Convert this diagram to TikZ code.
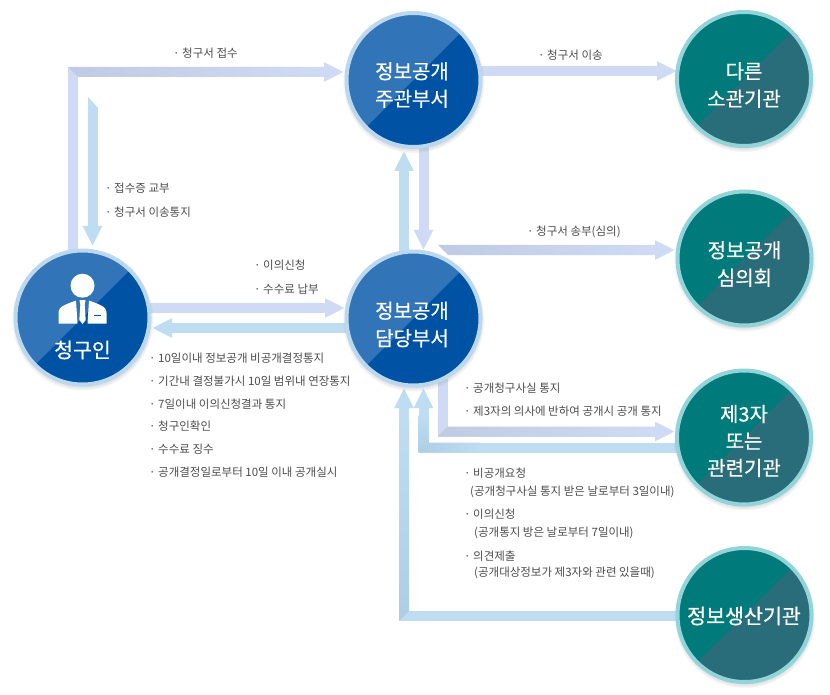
\documentclass[tikz,border=0pt]{standalone}
\usepackage{fontspec}
\setmainfont{Noto Sans CJK KR}
\newfontfamily\discfont[FakeBold=0.5]{Noto Sans CJK KR}
\usetikzlibrary{calc,arrows.meta,shadows,backgrounds}
\definecolor{lav}{HTML}{CFDBF4}
\definecolor{lavdark}{HTML}{BFCAE3}
\definecolor{skyb}{HTML}{BEDDF2}
\definecolor{skydark}{HTML}{ACCEE5}
\definecolor{blueA}{HTML}{3174B8}
\definecolor{blueB}{HTML}{0052A4}
\definecolor{blueR}{HTML}{BBD8EF}
\definecolor{tealA}{HTML}{007A7A}
\definecolor{tealB}{HTML}{2A6D7A}
\definecolor{tealR}{HTML}{92D4DA}
\definecolor{txt}{HTML}{4C4C4C}
\tikzset{
  disc/.style={circle,minimum size=134pt,inner sep=0pt,line width=4pt,
    circular drop shadow={shadow xshift=0pt,shadow yshift=-2pt,shadow scale=1.06,opacity=.55}},
  bluedisc/.style={disc,draw=blueR,fill=blueA,path picture={\fill[blueB]
    (path picture bounding box.north east)--(path picture bounding box.south east)--(path picture bounding box.south west)--cycle;}},
  tealdisc/.style={disc,draw=tealR,fill=tealA,path picture={\fill[tealB]
    (path picture bounding box.north east)--(path picture bounding box.south east)--(path picture bounding box.south west)--cycle;}},
  disctext/.style={inner sep=0pt,align=center,text=white,font=\discfont\fontsize{20}{27.5}\selectfont},
  fat/.style={line width=10pt,-{Triangle[width=18pt,length=20pt]},line join=miter},
  lavarrow/.style={fat,draw=lav},
  skyarrow/.style={fat,draw=skyb},
  lbl/.style={anchor=west,inner sep=0pt,text=txt,font=\fontsize{11.5}{13}\selectfont},
}
\begin{document}
\begin{tikzpicture}[x=1pt,y=-1pt]
\useasboundingbox (0,0) rectangle (830,695);
% discs
\node[bluedisc] (req) at (82.5,317.5) {};
\node[bluedisc] (main) at (413.5,80) {};
\node[bluedisc] (dept) at (413.5,318.5) {};
\node[tealdisc] (other) at (744,79) {};
\node[tealdisc] (comm) at (744.5,258.5) {};
\node[tealdisc] (third) at (744,437.5) {};
\node[tealdisc] (prod) at (744.5,615) {};
% disc texts
\node[disctext] (mainname) at ($(main)+(-1.5,5)$) {정보공개\\주관부서};
\node[disctext] (deptname) at ($(dept)+(-1.5,6)$) {정보공개\\담당부서};
\node[disctext] (othername) at ($(other)+(0,6)$) {다른\\소관기관};
\node[disctext] (commname) at ($(comm)+(0,5.5)$) {정보공개\\심의회};
\node[disctext,font=\discfont\fontsize{20}{27}\selectfont] (thirdname) at ($(third)+(0,3.5)$) {제3자\\또는\\관련기관};
\node[disctext,font=\discfont\fontsize{20.6}{27}\selectfont] (prodname) at ($(prod)+(-0.5,1)$) {정보생산기관};
% person icon and name
\fill[white] (82.5,285.7) circle (12);
\fill[white] (58.5,323.5)--(58.5,313) .. controls (58.5,306) and (66,304.5) .. (76,300.5)--(77.5,323.5)--cycle;
\fill[white] (106.5,323.5)--(106.5,313) .. controls (106.5,306) and (99,304.5) .. (89,300.5)--(87.5,323.5)--cycle;
\fill[white] (79.5,300)--(85.5,300)--(84.7,305)--(85.7,320)--(82.5,324)--(79.3,320)--(80.3,305)--cycle;
\fill[blueB] (94,314.5) rectangle (101,316);
\node[disctext,font=\discfont\fontsize{20.5}{24}\selectfont] (reqname) at (82.5,350) {청구인};
\begin{scope}[on background layer]
\fill[white] (0,0) rectangle (830,695);
% connectors
\draw[lavarrow] ($(req)+(-9.5,-58)$) |- ($(main)+(-69.5,-8)$);
\draw[skyarrow] ($(req)+(10,-210.5)$) -- ($(req)+(10,-71.5)$);
\draw[lavarrow] ($(req)+(65,-9.5)$) -- ($(dept)+(-68.5,-10.5)$);
\draw[skyarrow] ($(dept)+(-60,9.5)$) -- ($(req)+(69.5,10.5)$);
\draw[skyarrow] ($(dept)+(-9.5,-60)$) -- ($(main)+(-9.5,71)$);
\draw[lavarrow] ($(main)+(10,60)$) -- ($(dept)+(10,-68.5)$);
\draw[lavarrow] ($(main)+(60,-9)$) -- ($(other)+(-67,-8)$);
\draw[lavarrow] ($(dept)+(34.5,-68.5)$) -- ($(comm)+(-69.5,-8.5)$);
\draw[lavarrow] ($(dept)+(29,60)$) |- ($(third)+(-69,-6)$);
\draw[skyarrow] ($(third)+(-66,10)$) -| ($(dept)+(10,69.5)$);
\draw[skyarrow] ($(prod)+(-66.5,1)$) -| ($(dept)+(-9.5,69.5)$);
% shaded corners
\fill[skyb] (88,97)--(97.5,107.5)--(88,107.5)--cycle;
\shade[left color=lavdark,right color=lav] (68,67)--(325,67)--(325,77)--(78,77)--cycle;
\shade[left color=lavdark,right color=lav] (438,245)--(655,245)--(655,255)--(448,255)--cycle;
\shade[left color=lavdark,right color=lav] (437.5,436.5)--(447.5,426.5)--(655,426.5)--(655,436.5)--cycle;
\shade[left color=skydark,right color=skyb] (418.5,452.5)--(428.5,442.5)--(480,442.5)--(480,452.5)--cycle;
\shade[bottom color=skydark,top color=skyb] (418.5,452.5)--(428.5,442.5)--(428.5,415)--(418.5,415)--cycle;
\shade[bottom color=skydark,top color=skyb] (399,621)--(409,611)--(409,420)--(399,420)--cycle;
\end{scope}
% labels
\node[lbl] (t1) at (173,53) {· 청구서 접수};
\node[lbl] (t2) at (538,55) {· 청구서 이송};
\node[lbl] (t3) at (105,188) {· 접수증 교부};
\node[lbl] (t4) at (105,212) {· 청구서 이송통지};
\node[lbl] (t5) at (254,265) {· 이의신청};
\node[lbl] (t6) at (254,289) {· 수수료 납부};
\node[lbl] (t7) at (527,232) {· 청구서 송부(심의)};
\node[lbl] (a1) at (149,358) {· 10일이내 정보공개 비공개결정통지};
\node[lbl] (a2) at (149,381) {· 기간내 결정불가시 10일 범위내 연장통지};
\node[lbl] (a3) at (149,404) {· 7일이내 이의신청결과 통지};
\node[lbl] (a4) at (149,426) {· 청구인확인};
\node[lbl] (a5) at (149,449) {· 수수료 징수};
\node[lbl] (a6) at (149,472) {· 공개결정일로부터 10일 이내 공개실시};
\node[lbl] (b1) at (464,388) {· 공개청구사실 통지};
\node[lbl] (b2) at (464,411) {· 제3자의 의사에 반하여 공개시 공개 통지};
\node[lbl] (c1) at (464,473) {· 비공개요청};
\node[lbl] (c2) at (470,492) {(공개청구사실 통지 받은 날로부터 3일이내)};
\node[lbl] (c3) at (464,514) {· 이의신청};
\node[lbl] (c4) at (474,533) {(공개통지 방은 날로부터 7일이내)};
\node[lbl] (c5) at (464,556) {· 의견제출};
\node[lbl] (c6) at (474,573) {(공개대상정보가 제3자와 관련 있을때)};
\end{tikzpicture}
\end{document}
